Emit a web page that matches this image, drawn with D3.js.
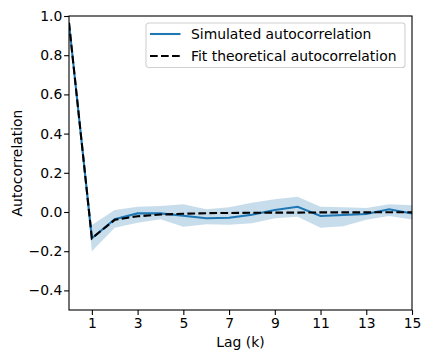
<!DOCTYPE html>
<html>
<head>
<meta charset="utf-8">
<script src="https://cdn.jsdelivr.net/npm/d3@7"></script>
<style>
  body { margin: 0; background: #fff; }
  text { font-family: "DejaVu Sans", sans-serif; }
</style>
</head>
<body>
<svg width="432" height="360"></svg>
<script>
// data
const lags = d3.range(0, 16);
const simulated = [0.965, -0.134, -0.037, -0.007, -0.007, -0.019, -0.032, -0.029, -0.014, 0.01, 0.027, -0.02, -0.015, -0.01, 0.014, -0.008];
const bandUpper = [0.975, -0.066, 0.01, 0.027, 0.03, 0.039, 0.014, 0.024, 0.047, 0.065, 0.078, 0.027, 0.024, 0.02, 0.04, 0.035];
const bandLower = [0.955, -0.2, -0.08, -0.055, -0.037, -0.075, -0.063, -0.065, -0.057, -0.032, -0.024, -0.08, -0.073, -0.04, -0.02, -0.038];
const theoretical = [0.965, -0.134, -0.04, -0.022, -0.013, -0.009, -0.006, -0.005, -0.004, -0.003, -0.003, -0.002, -0.002, -0.002, -0.001, -0.001];
const xTicks = [1, 3, 5, 7, 9, 11, 13, 15];
const yTicks = [-0.4, -0.2, 0.0, 0.2, 0.4, 0.6, 0.8, 1.0];

const svg = d3.select('svg');
const margin = {top: 16, right: 20, bottom: 50, left: 69};
const innerWidth = 412 - margin.left;
const innerHeight = 310 - margin.top;

const blue = '#1f77b4';
const fontSize = 13.9;
const lineW = 2.08;
const dash = '7.7,3.3';

const g = svg.append('g')
  .attr('transform', `translate(${margin.left},${margin.top})`);

const xScale = d3.scaleLinear().domain([0, 15]).range([0, innerWidth]);
const yScale = d3.scaleLinear().domain([-0.5, 1.0]).range([innerHeight, 0]);

const data = lags.map((k, i) => ({
  k, sim: simulated[i], lo: bandLower[i], hi: bandUpper[i], th: theoretical[i]
}));

g.append('clipPath').attr('id', 'clip')
  .append('rect').attr('width', innerWidth).attr('height', innerHeight);

const plot = g.append('g').attr('clip-path', 'url(#clip)');

plot.append('path')
  .datum(data)
  .attr('fill', blue)
  .attr('fill-opacity', 0.25)
  .attr('d', d3.area()
    .x(d => xScale(d.k))
    .y0(d => yScale(d.lo))
    .y1(d => yScale(d.hi)));

plot.append('path')
  .datum(data)
  .attr('fill', 'none')
  .attr('stroke', blue)
  .attr('stroke-width', lineW)
  .attr('d', d3.line().x(d => xScale(d.k)).y(d => yScale(d.sim)));

plot.append('path')
  .datum(data)
  .attr('fill', 'none')
  .attr('stroke', 'black')
  .attr('stroke-width', lineW)
  .attr('stroke-dasharray', dash)
  .attr('d', d3.line().x(d => xScale(d.k)).y(d => yScale(d.th)));

const minus = n => d3.format('.1f')(n).replace('-', '\u2212');

const xAxisG = g.append('g')
  .attr('transform', `translate(0,${innerHeight})`)
  .call(d3.axisBottom(xScale).tickValues(xTicks).tickSize(4.9).tickPadding(3));

const yAxisG = g.append('g')
  .call(d3.axisLeft(yScale).tickValues(yTicks).tickFormat(minus).tickSize(4.9).tickPadding(1.8));

[xAxisG, yAxisG].forEach(a => {
  a.select('.domain').remove();
  a.attr('font-size', fontSize).attr('font-family', '"DejaVu Sans", sans-serif');
  a.selectAll('text').attr('fill', 'black');
  a.selectAll('line').attr('stroke', 'black').attr('stroke-width', 1.1);
});

// frame
g.append('rect')
  .attr('width', innerWidth)
  .attr('height', innerHeight)
  .attr('fill', 'none')
  .attr('stroke', 'black')
  .attr('stroke-width', 1.1);

g.append('text')
  .attr('x', innerWidth / 2)
  .attr('y', 346.5 - margin.top)
  .attr('text-anchor', 'middle')
  .attr('font-size', fontSize)
  .text('Lag (k)');

g.append('text')
  .attr('transform', 'rotate(-90)')
  .attr('x', -innerHeight / 2)
  .attr('y', 21.5 - margin.left)
  .attr('text-anchor', 'middle')
  .attr('font-size', fontSize)
  .text('Autocorrelation');

// legend
const legend = g.append('g').attr('transform', `translate(${146 - margin.left},${23 - margin.top})`);
legend.append('rect')
  .attr('width', 259).attr('height', 44.5).attr('rx', 2.8)
  .attr('fill', 'white').attr('fill-opacity', 0.8)
  .attr('stroke', '#d0d0d0').attr('stroke-width', 1.1);

const legendItems = [
  {label: 'Simulated autocorrelation', color: blue, dash: null},
  {label: 'Fit theoretical autocorrelation', color: 'black', dash: dash}
];
legendItems.forEach((item, i) => {
  const y = 11 + i * 22;
  legend.append('line')
    .attr('x1', 4).attr('x2', 34.5).attr('y1', y).attr('y2', y)
    .attr('stroke', item.color).attr('stroke-width', lineW)
    .attr('stroke-dasharray', item.dash);
  legend.append('text')
    .attr('x', 45).attr('y', y).attr('dy', '0.35em')
    .attr('font-size', fontSize)
    .text(item.label);
});
</script>
</body>
</html>
